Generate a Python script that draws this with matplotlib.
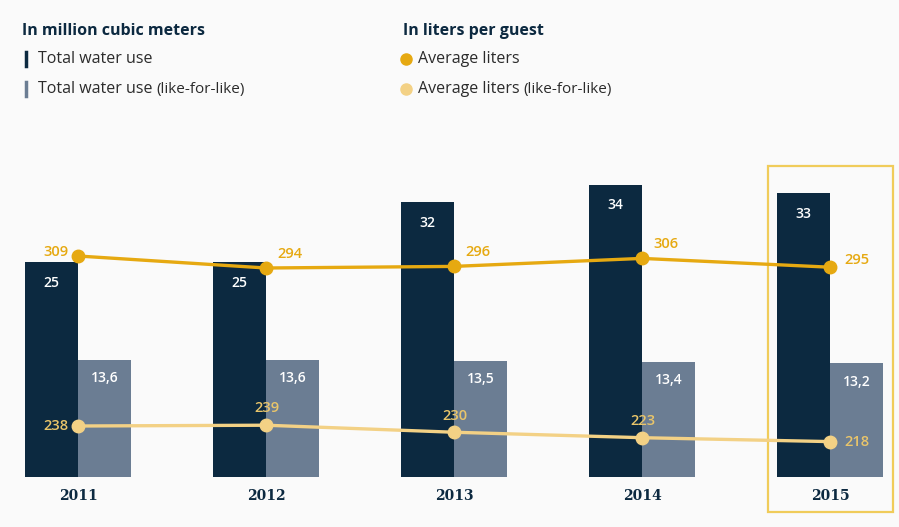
import matplotlib

matplotlib.use("Agg")
import matplotlib.pyplot as plt
import numpy as np
from matplotlib.patches import Rectangle

years = ["2011", "2012", "2013", "2014", "2015"]
total_use = [25, 25, 32, 34, 33]                 # million m3
total_use_lfl = [13.6, 13.6, 13.5, 13.4, 13.2]   # million m3, like-for-like
avg_liters = [309, 294, 296, 306, 295]           # liters per guest
avg_liters_lfl = [238, 239, 230, 223, 218]       # liters per guest, like-for-like

NAVY = "#0c2940"
SLATE = "#6b7d93"
GOLD = "#e6a911"
PALE_GOLD = "#f3d185"
BG = "#fafafa"
FONT = "Open Sans"

# label offsets (points) and alignment for the two line series
upper_lbl = [((-7, 3), "right", "center"), ((8, 5), "left", "bottom"),
             ((8, 5), "left", "bottom"), ((8, 5), "left", "bottom"),
             ((10, 5), "left", "center")]
lower_lbl = [((-7, 0), "right", "center"), ((1, 7), "center", "bottom"),
             ((1, 7), "center", "bottom"), ((1, 7), "center", "bottom"),
             ((10, 0), "left", "center")]


def fmt(v):
    return f"{v:g}".replace(".", ",") if v % 1 else f"{v:.0f}"


fig = plt.figure(figsize=(8.99, 5.27), dpi=100, facecolor=BG)
rect = [0, 50 / 527, 1, 327 / 527]
ax = fig.add_axes(rect)
ax_hi = fig.add_axes(rect, sharex=ax)
ax_lo = fig.add_axes(rect, sharex=ax)
for a in (ax, ax_hi, ax_lo):
    a.patch.set_visible(False)
    a.axis("off")

x = np.arange(len(years))
w = 0.282
ax.set_xlim(-78 / 188, (899 - 78) / 188)
ax.set_ylim(0, 327 / 8.6)
ax_hi.set_ylim(309 - 221 / 0.8, 309 + 106 / 0.8)
ax_lo.set_ylim(238 - 51 / 0.78, 238 + 276 / 0.78)

b1 = ax.bar(x - w / 2, total_use, w, color=NAVY, zorder=2)
b2 = ax.bar(x + w / 2, total_use_lfl, w, color=SLATE, zorder=2)
for bars, vals, dy in ((b1, total_use, -15), (b2, total_use_lfl, -13)):
    for b, v in zip(bars, vals):
        ax.annotate(fmt(v), (b.get_x() + b.get_width() / 2, b.get_height()),
                    xytext=(0, dy), textcoords="offset points", ha="center",
                    va="center", color="white", fontsize=10, family=FONT,
                    fontweight="semibold")

for yr, xi in zip(years, x):
    ax.annotate(yr, (xi, 0), xytext=(0, -14), textcoords="offset points",
                ha="center", va="center", color=NAVY, fontsize=10,
                family="DejaVu Serif", fontweight="bold")

ax_hi.plot(x, avg_liters, color=GOLD, lw=2.4, marker="o", ms=9, zorder=3)
ax_lo.plot(x, avg_liters_lfl, color=PALE_GOLD, lw=2.4, marker="o", ms=9, zorder=3)
for a, vals, col, specs in ((ax_hi, avg_liters, GOLD, upper_lbl),
                            (ax_lo, avg_liters_lfl, "#e9c56a", lower_lbl)):
    for xi, v, (off, ha, va) in zip(x, vals, specs):
        a.annotate(fmt(v), (xi, v), xytext=off, textcoords="offset points",
                   ha=ha, va=va, color=col, fontsize=10.5, family=FONT,
                   fontweight="semibold")

# highlight frame around the latest year
ax.add_patch(Rectangle((x[-1] - 0.33, -4.1), 0.665, 40.3, fill=False,
                       edgecolor="#f0cc5a", lw=1.6, clip_on=False, zorder=1))

# legend block
def legend_line(px, py, label, extra=None):
    t = fig.text(px / 899, 1 - py / 527, label, fontsize=11.5, family=FONT,
                 color="#2b2b2b", va="center")
    if extra:
        fig.canvas.draw()
        bb = t.get_window_extent()
        fig.text(bb.x1 / 899 + 4 / 899, 1 - py / 527, extra, fontsize=11,
                 family=FONT, color="#2b2b2b", va="center")


fig.text(22 / 899, 1 - 31 / 527, "In million cubic meters", fontsize=11.5,
         family=FONT, fontweight="bold", color=NAVY, va="center")
fig.text(403 / 899, 1 - 31 / 527, "In liters per guest", fontsize=11.5,
         family=FONT, fontweight="bold", color=NAVY, va="center")
for py, col in ((59, NAVY), (89, SLATE)):
    fig.add_artist(plt.Line2D([26 / 899, 26 / 899],
                              [1 - (py - 7) / 527, 1 - (py + 7) / 527],
                              color=col, lw=2.5))
for py, col in ((59, GOLD), (89, PALE_GOLD)):
    fig.add_artist(plt.Line2D([406 / 899], [1 - py / 527], marker="o", ms=8,
                              color=col, lw=0))
legend_line(38, 59, "Total water use")
legend_line(38, 89, "Total water use", "(like-for-like)")
legend_line(418, 59, "Average liters")
legend_line(418, 89, "Average liters", "(like-for-like)")

fig.savefig("out.png", dpi=100, facecolor=BG)
